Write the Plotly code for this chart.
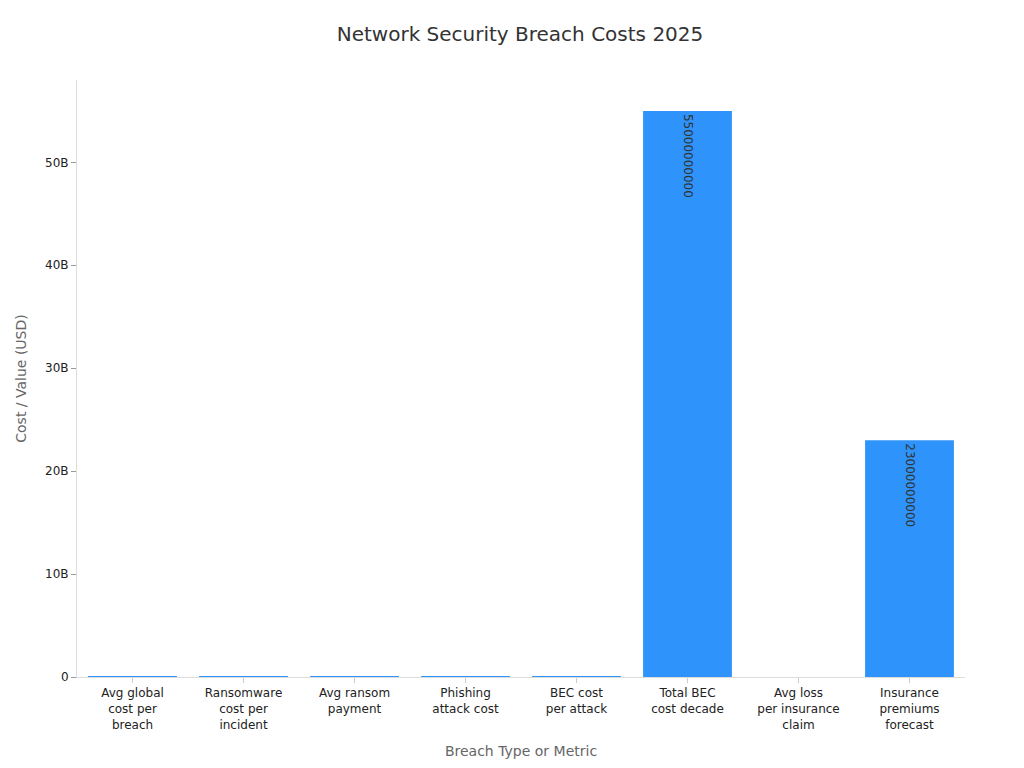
import plotly.graph_objects as go

categories = [
    "Avg global<br>cost per<br>breach",
    "Ransomware<br>cost per<br>incident",
    "Avg ransom<br>payment",
    "Phishing<br>attack cost",
    "BEC cost<br>per attack",
    "Total BEC<br>cost decade",
    "Avg loss<br>per insurance<br>claim",
    "Insurance<br>premiums<br>forecast",
]
values = [4440000, 5130000, 2730000, 4800000, 4890000, 55000000000, 115000, 23000000000]

fig = go.Figure()
fig.add_trace(go.Bar(
    x=categories, y=values,
    text=[str(v) for v in values],
    textposition="inside", insidetextanchor="end", textangle=90,
    textfont=dict(color="#333", size=12),
    marker=dict(color="#2e93fa", line=dict(width=0)),
))
fig.update_layout(
    title=dict(text="Network Security Breach Costs 2025", x=0.5, y=0.975,
               font=dict(size=20, color="#333")),
    font=dict(family="DejaVu Sans", size=12, color="#222"),
    plot_bgcolor="white", paper_bgcolor="white",
    width=1024, height=768,
    margin=dict(l=60, r=67, t=72, b=99),
    uniformtext=dict(mode="hide", minsize=8),
    bargap=0.2,
    showlegend=False,
)
fig.update_xaxes(title=dict(text="Breach Type or Metric", font=dict(color="#666", size=14)),
                 showline=True, linecolor="#ddd", ticks="outside", tickcolor="#ccc")
fig.update_yaxes(title=dict(text="Cost / Value (USD)", font=dict(color="#666", size=14)),
                 showline=True, linecolor="#ddd", ticks="outside", tickcolor="#999",
                 showgrid=False, zeroline=False, range=[0, 58e9])
fig.write_html("out.html")
